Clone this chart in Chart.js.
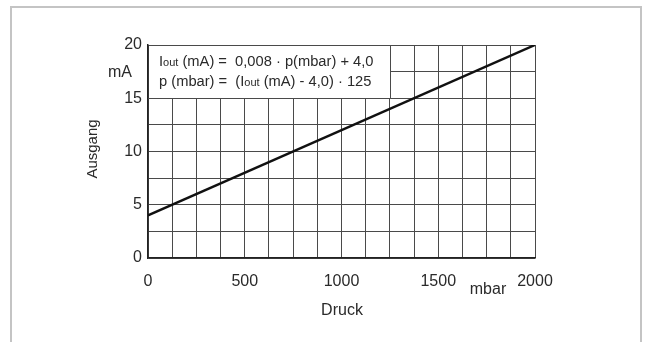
<!DOCTYPE html>
<html>
<head>
<meta charset="utf-8">
<script src="https://cdn.jsdelivr.net/npm/chart.js@4"></script>
<style>
  html, body { margin: 0; padding: 0; background: #fff; }
  #wrap { width: 648px; height: 342px; }
</style>
</head>
<body>
<div id="wrap"><canvas id="kennlinie" width="648" height="342"></canvas></div>
<script>
// Kennlinie: Iout (mA) = 0,008 * p(mbar) + 4,0
const druck = [0, 2000];          // mbar
const ausgang = [4.0, 20.0];      // mA
const xTicksBeschriftet = [0, 500, 1000, 1500, 2000];
const yTicksBeschriftet = [0, 5, 10, 15, 20];
const formelZeilen = [
  ['I', 'out', ' (mA) =  0,008 · p(mbar) + 4,0'],
  ['p (mbar) =  (I', 'out', ' (mA) - 4,0) · 125']
];
// Kasten fuer die Formeln (in Achsenwerten)
const kastenBis = { x: 1250, y: 15 };

const schrift = '"Liberation Sans", Arial, Helvetica, sans-serif';
const textFarbe = '#2a2a2a';
const gitterFarbe = '#4a4a4a';

const rahmenPlugin = {
  id: 'rahmen',
  beforeDraw(chart) {
    const ctx = chart.ctx;
    ctx.save();
    ctx.fillStyle = '#fff';
    ctx.fillRect(0, 0, chart.width, chart.height);
    ctx.strokeStyle = '#c4c4c4';
    ctx.lineWidth = 2;
    ctx.beginPath();
    ctx.moveTo(11, chart.height);
    ctx.lineTo(11, 7);
    ctx.lineTo(641, 7);
    ctx.lineTo(641, chart.height);
    ctx.stroke();
    ctx.restore();
  },
  beforeDatasetsDraw(chart) {
    const { ctx, chartArea, scales } = chart;
    const r = Math.round(scales.x.getPixelForValue(kastenBis.x)) + 0.5;
    const b = Math.round(scales.y.getPixelForValue(kastenBis.y)) + 0.5;
    ctx.save();
    ctx.fillStyle = '#fff';
    ctx.fillRect(chartArea.left + 1, chartArea.top + 1, r - chartArea.left - 1, b - chartArea.top - 1);
    ctx.strokeStyle = gitterFarbe;
    ctx.lineWidth = 1;
    ctx.beginPath();
    ctx.moveTo(r, chartArea.top);
    ctx.lineTo(r, b);
    ctx.lineTo(chartArea.left, b);
    ctx.stroke();
    ctx.restore();
  },
  afterDraw(chart) {
    const { ctx } = chart;
    ctx.save();
    ctx.fillStyle = textFarbe;
    ctx.textBaseline = 'alphabetic';

    // Formeln im Kasten
    const zeilenY = [66, 86];
    formelZeilen.forEach((teile, i) => {
      let x = 159;
      teile.forEach((t, j) => {
        ctx.font = (j === 1 ? '11px ' : '14.7px ') + schrift;
        ctx.fillText(t, x, zeilenY[i]);
        x += ctx.measureText(t).width;
      });
    });

    // Achsentitel und Einheiten
    ctx.font = '16px ' + schrift;
    ctx.textAlign = 'center';
    ctx.textBaseline = 'middle';
    ctx.fillText('mA', 120, 73);
    ctx.fillText('Druck', 342, 311);
    ctx.fillText('mbar', 488, 290);

    ctx.font = '15px ' + schrift;
    ctx.translate(93, 149);
    ctx.rotate(-Math.PI / 2);
    ctx.fillText('Ausgang', 0, 0);
    ctx.restore();
  }
};

new Chart(document.getElementById('kennlinie'), {
  type: 'scatter',
  data: {
    datasets: [{
      data: druck.map((p, i) => ({ x: p, y: ausgang[i] })),
      showLine: true,
      borderColor: '#111',
      borderWidth: 2.5,
      pointRadius: 0
    }]
  },
  options: {
    responsive: false,
    animation: false,
    layout: { padding: { left: 0, top: 45, right: 113, bottom: 0 } },
    plugins: { legend: { display: false }, tooltip: { enabled: false } },
    scales: {
      x: {
        type: 'linear',
        min: 0,
        max: 2000,
        afterFit(scale) { scale.height = 84; },
        grid: { color: gitterFarbe, lineWidth: 1, drawTicks: false },
        border: { color: '#222', width: 1.5 },
        ticks: {
          stepSize: 125,
          autoSkip: false,
          maxRotation: 0,
          padding: 14,
          color: textFarbe,
          font: { family: schrift, size: 16 },
          callback: v => xTicksBeschriftet.includes(v) ? String(v) : ''
        }
      },
      y: {
        type: 'linear',
        min: 0,
        max: 20,
        afterFit(scale) { scale.width = 148; },
        grid: { color: gitterFarbe, lineWidth: 1, drawTicks: false },
        border: { color: '#222', width: 1.5 },
        ticks: {
          stepSize: 2.5,
          autoSkip: false,
          padding: 6,
          color: textFarbe,
          font: { family: schrift, size: 16 },
          callback: v => yTicksBeschriftet.includes(v) ? String(v) : ''
        }
      }
    }
  },
  plugins: [rahmenPlugin]
});
</script>
</body>
</html>
